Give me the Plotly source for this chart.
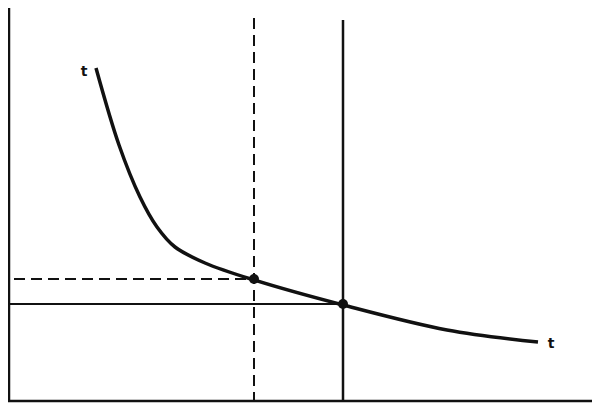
import plotly.graph_objects as go

# Curve t (read in picture coordinates: x right, y down)
curve_x = [96, 119, 140, 157, 175, 205, 254, 343, 447, 538]
curve_y = [68, 145, 197, 227, 247, 263, 280, 305, 330, 342]

# Equilibrium points
pts_x = [254, 343]
pts_y = [279, 304]

# Axes
axis_y_x = [9, 9]
axis_y_y = [0, 401]
axis_x_x = [0, 600]
axis_x_y = [401, 401]

# Guide lines
vsolid_x = [343, 343]
vsolid_y = [20, 401]
vdash_x = [254, 254]
vdash_y = [18, 401]
hsolid_x = [9, 343]
hsolid_y = [304, 304]
hdash_x = [14, 254]
hdash_y = [279, 279]

labels = ["t", "t"]
label_x = [84, 551]
label_y = [72, 344]

fig = go.Figure()
blk = "#111111"
def seg(x, y, dash="solid", w=2):
    fig.add_trace(go.Scatter(x=x, y=y, mode="lines",
                             line=dict(color=blk, width=w, dash=dash),
                             hoverinfo="skip", showlegend=False))

seg(axis_y_x, axis_y_y, w=2.5)
seg(axis_x_x, axis_x_y, w=2.5)
seg(vsolid_x, vsolid_y, w=2.5)
seg(vdash_x, vdash_y, dash="11px,6px", w=2)
seg(hsolid_x, hsolid_y, w=2.2)
seg(hdash_x, hdash_y, dash="11px,6px", w=2)
fig.add_trace(go.Scatter(x=curve_x, y=curve_y, mode="lines",
                         line=dict(color=blk, width=3.5, shape="spline", smoothing=1.0),
                         hoverinfo="skip", showlegend=False))
fig.add_trace(go.Scatter(x=pts_x, y=pts_y, mode="markers",
                         marker=dict(color=blk, size=10),
                         hoverinfo="skip", showlegend=False))
fig.add_trace(go.Scatter(x=label_x, y=label_y, mode="text", text=["<b>%s</b>" % s for s in labels],
                         textfont=dict(family="DejaVu Sans", size=14, color=blk),
                         hoverinfo="skip", showlegend=False))

# The page body has an 8px margin, so the figure sits at (8, 8) in the window.
fig.update_layout(
    width=592, height=404,
    margin=dict(l=0, r=0, t=0, b=0),
    paper_bgcolor="white", plot_bgcolor="white",
    xaxis=dict(range=[8, 600], visible=False, fixedrange=True),
    yaxis=dict(range=[412, 8], visible=False, fixedrange=True),
)
fig.write_html("out.html")
